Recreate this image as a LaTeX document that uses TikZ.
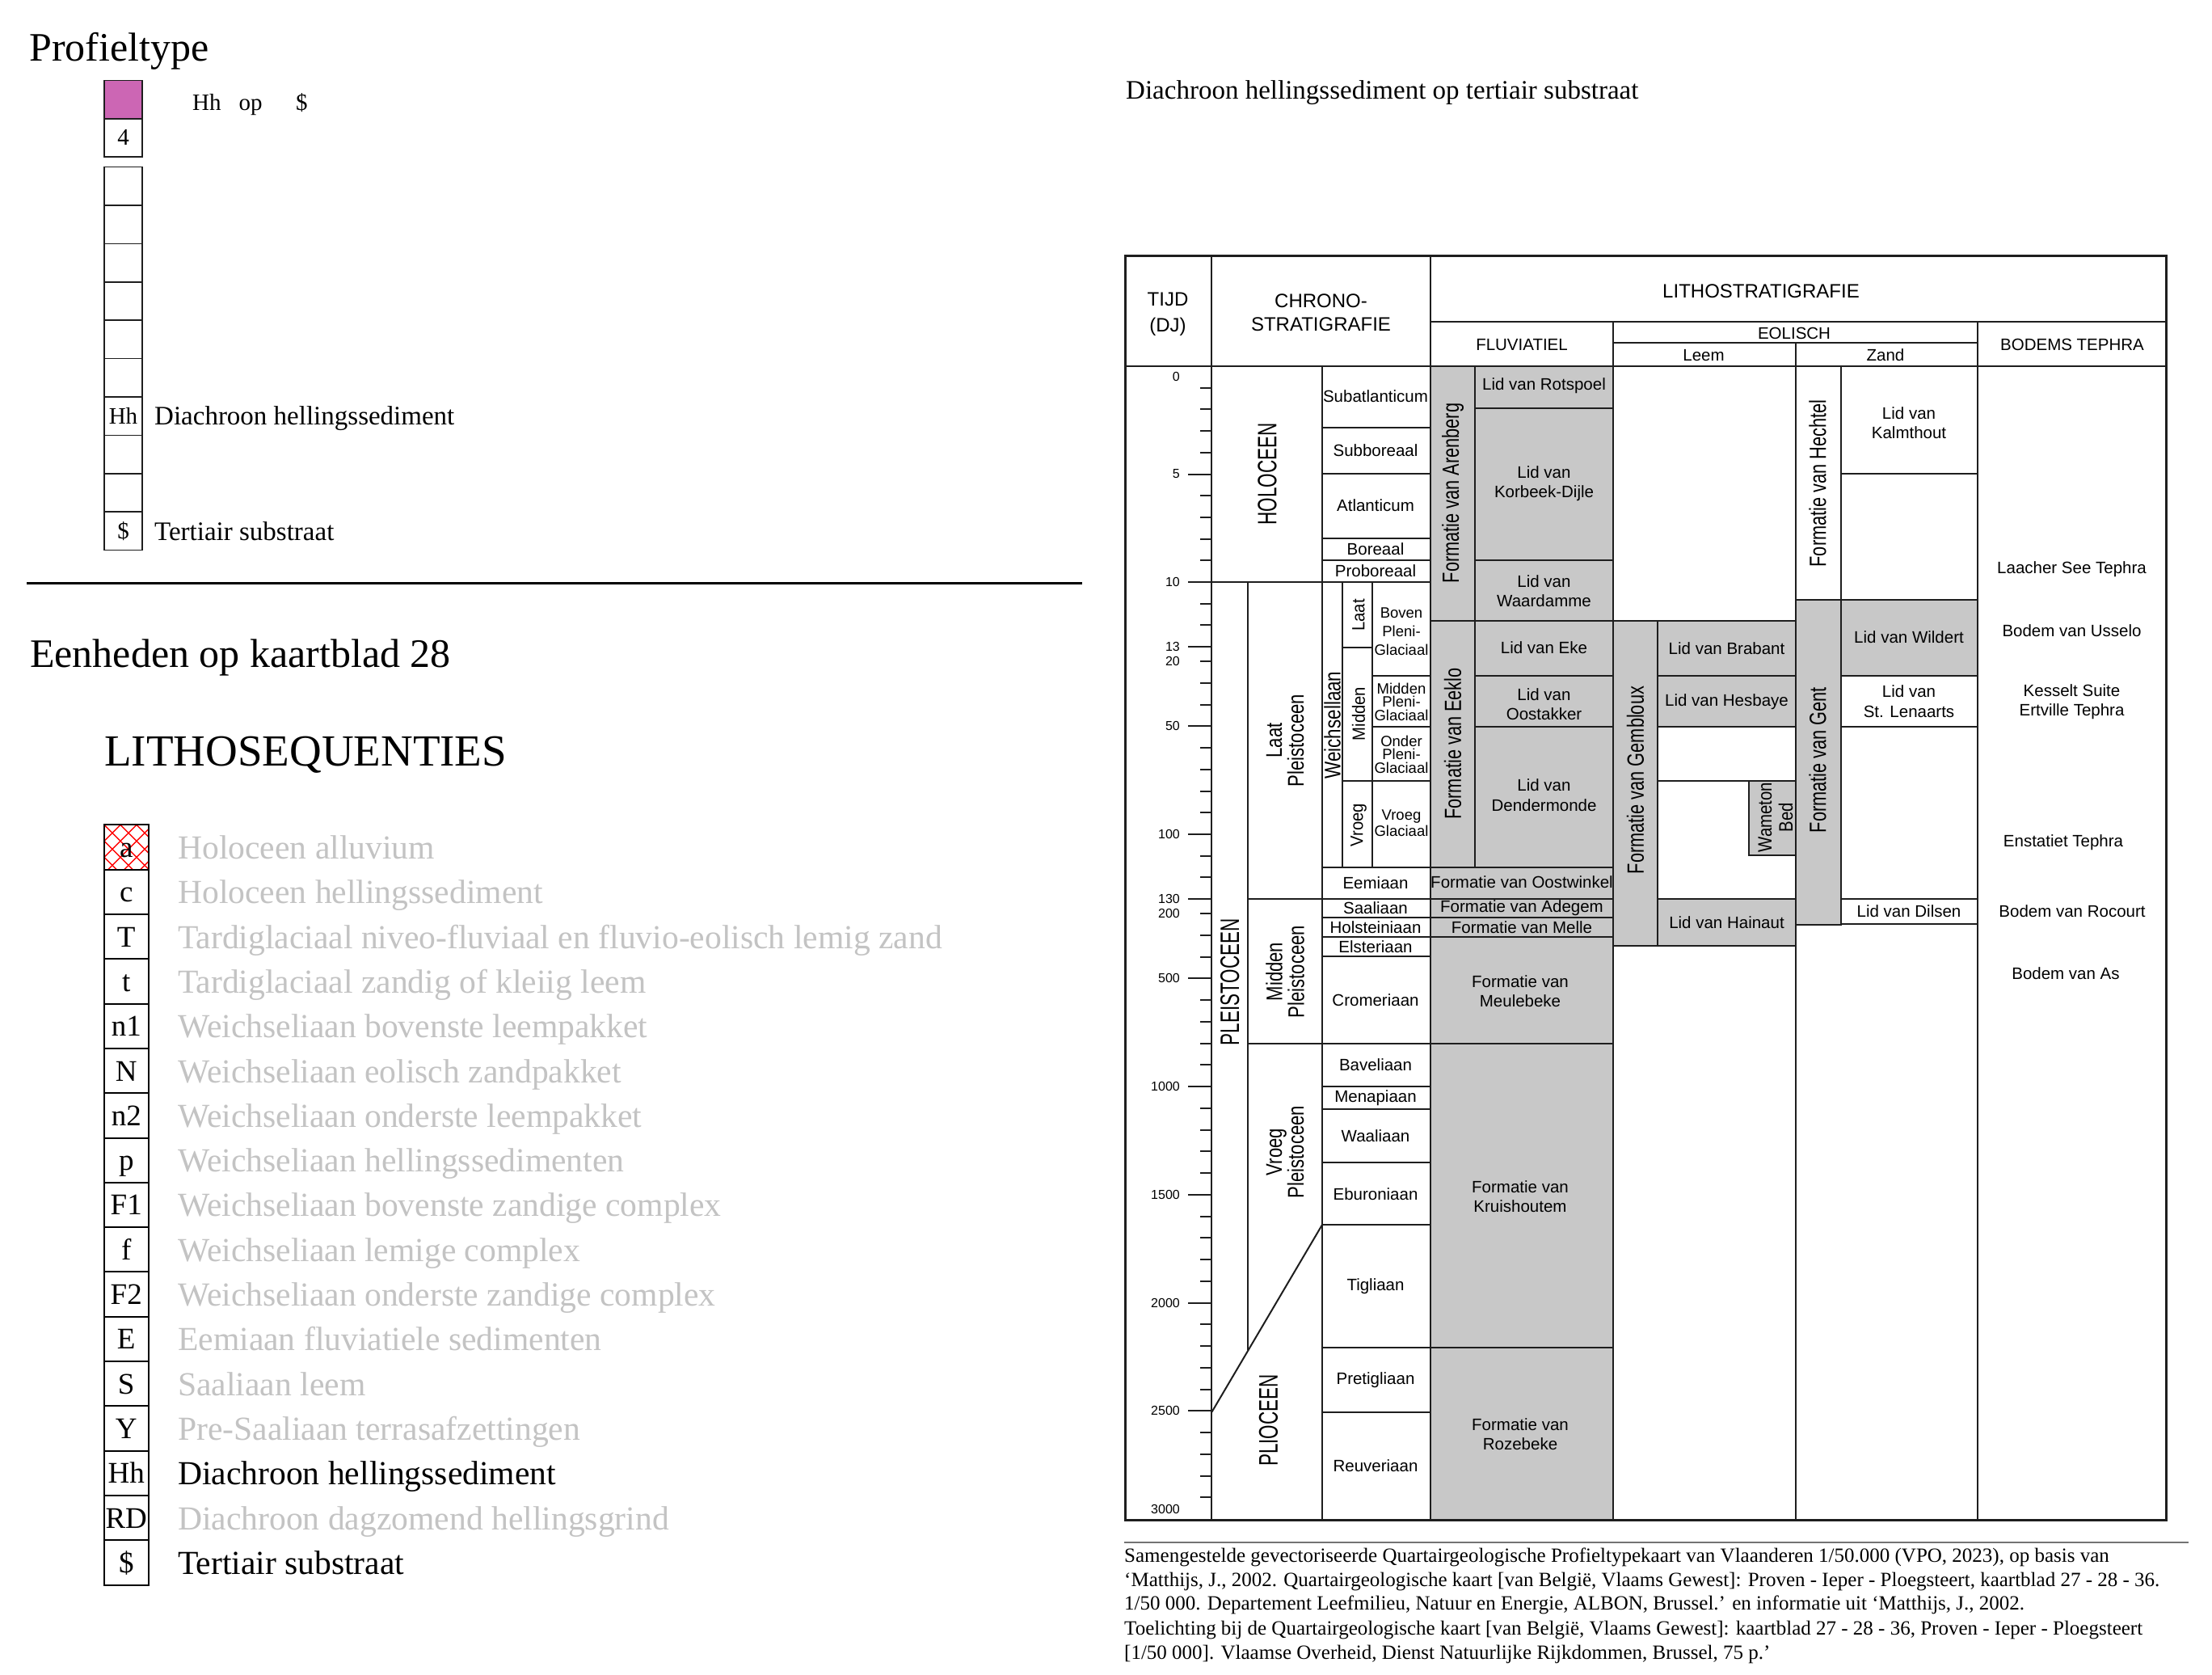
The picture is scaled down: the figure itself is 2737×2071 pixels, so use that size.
\documentclass[tikz,border=0pt]{standalone}
\usepackage{fontspec}
\setmainfont{Liberation Serif}
\newfontfamily\arial{Liberation Sans}
\usepackage{graphicx}
\definecolor{gfill}{RGB}{200,200,200}
\definecolor{ltxt}{RGB}{195,195,195}
\definecolor{mag}{RGB}{204,102,180}
\definecolor{ln}{RGB}{30,30,30}
\newcommand\cx[2]{\scalebox{#1}[1]{#2}}
\newcommand\fsz[2]{\fontsize{#1pt}{#2pt}\selectfont}
\tikzset{
 ctxt/.style={font=\arial\fsz{20.5}{24.5}, align=center, inner sep=0pt},
 ctxs/.style={font=\arial\fsz{18.5}{16.5}, align=center, inner sep=0pt},
 hdr/.style={font=\arial\fsz{24}{29}, anchor=base, inner sep=0pt},
 shdr/.style={font=\arial\fsz{20.5}{24}, anchor=base, inner sep=0pt},
 ticklbl/.style={font=\arial\fsz{16}{18}, anchor=east, inner sep=0pt},
 rotbig/.style={rotate=90, inner sep=0pt, align=center, font=\arial\fsz{33}{36}},
 rotmid/.style={rotate=90, inner sep=0pt, align=center, font=\arial\fsz{28}{27}},
 rotfm/.style={rotate=90, inner sep=0pt, align=center, font=\arial\fsz{29}{30}},
 rotsm/.style={rotate=90, inner sep=0pt, align=center, font=\arial\fsz{22}{24}},
 gbox/.style={fill=gfill, draw=ln, line width=2pt},
 wbox/.style={fill=white, draw=ln, line width=2pt},
 cl/.style={draw=ln, line width=2pt},
 legtxt/.style={anchor=base west, font=\fsz{41.6}{50}, inner sep=0pt},
 codetxt/.style={anchor=base, font=\fsz{37}{40}, inner sep=0pt},
 lbox/.style={draw=black, line width=2pt, minimum width=54.5pt, minimum height=55.3pt, inner sep=0pt},
 pbox/.style={draw=ln, line width=1.6pt, minimum width=47pt, minimum height=47.4pt, inner sep=0pt},
 ptxt/.style={anchor=base, font=\fsz{29}{32}, inner sep=0pt},
 serif/.style={anchor=base west, inner sep=0pt},
}
\begin{document}
\begin{tikzpicture}[x=1pt,y=-1pt]
\path[use as bounding box, fill=white] (0,0) rectangle (2737,2071);

% ---------------- Profieltype ----------------
\node[serif, font=\fsz{50}{60}] (ptitle) at (36,76) {Profieltype};
\node[pbox, fill=mag] (p0) at (152.5,123.2) {};
\node[pbox] (p1) at (152.5,170.5) {};
\node[ptxt] at (152.5,180) {4};
\foreach \k in {0,...,9} \node[pbox] (pb\k) at (152.5,{230.3+47.4*\k}) {};
\node[ptxt] (phh) at (152.5,{230.3+47.4*6+9.5}) {Hh};
\node[ptxt] (pdol) at (152.5,{230.3+47.4*9+9.5}) {\$};
\node[serif, font=\fsz{29}{32}] (q1) at (238,136.4) {Hh};
\node[serif, font=\fsz{29}{32}] (q2) at (295.5,136.4) {op};
\node[serif, font=\fsz{29}{32}] (q3) at (366,136.4) {\$};
\node[serif, font=\fsz{33}{36}] (pl1) at (191,525.7) {Diachroon hellingssediment};
\node[serif, font=\fsz{33}{36}] (pl2) at (191,668) {Tertiair substraat};

\draw[line width=3pt, black] (33,721.5) -- (1339,721.5);

% ---------------- Eenheden ----------------
\node[serif, font=\fsz{50}{60}] (etitle) at (37,825) {Eenheden op kaartblad 28};
\node[serif, font=\fsz{55}{60}] (ltitle) at (129,947) {LITHOSEQUENTIES};

\begin{scope}
\clip (129,1020.4) rectangle (183.5,1075.7);
\foreach \k in {-4,...,7} {
  \draw[red, line width=1.4pt] ({129+20*\k},1020.4) -- ++(70,70);
  \draw[red, line width=1.4pt] ({129+20*\k},1020.4) -- ++(-70,70);
}
\end{scope}

\foreach \c/\l/\col [count=\i from 0] in {
 a/Holoceen alluvium/ltxt,
 c/Holoceen hellingssediment/ltxt,
 T/Tardiglaciaal niveo-fluviaal en fluvio-eolisch lemig zand/ltxt,
 t/Tardiglaciaal zandig of kleiig leem/ltxt,
 n1/Weichseliaan bovenste leempakket/ltxt,
 N/Weichseliaan eolisch zandpakket/ltxt,
 n2/Weichseliaan onderste leempakket/ltxt,
 p/Weichseliaan hellingssedimenten/ltxt,
 F1/Weichseliaan bovenste zandige complex/ltxt,
 f/Weichseliaan lemige complex/ltxt,
 F2/Weichseliaan onderste zandige complex/ltxt,
 E/Eemiaan fluviatiele sedimenten/ltxt,
 S/Saaliaan leem/ltxt,
 Y/Pre-Saaliaan terrasafzettingen/ltxt,
 Hh/Diachroon hellingssediment/black,
 RD/Diachroon dagzomend hellingsgrind/ltxt,
 \$/Tertiair substraat/black} {
  \node[lbox] (lb\i) at (156.25,{1048.05+55.3*\i}) {};
  \node[codetxt] (lc\i) at (156.25,{1048.05+55.3*\i+12.5}) {\c};
  \node[legtxt, text=\col] (ll\i) at (220,{1048.05+55.3*\i+14.5}) {\l};
}

% ---------------- Right title ----------------
\node[serif, font=\fsz{33}{36}] (rtitle) at (1393,123) {Diachroon hellingssediment op tertiair substraat};

% ---------------- Chart boxes ----------------
% Fluviatiel
\draw[gbox] (1770,453) rectangle (1825,767.7);
\draw[gbox] (1825,453) rectangle (1996,505);
\draw[gbox] (1825,505) rectangle (1996,692.7);
\draw[gbox] (1825,692.7) rectangle (1996,767.7);
\draw[gbox] (1770,767.7) rectangle (1825,1072.7);
\draw[gbox] (1825,767.7) rectangle (1996,835.7);
\draw[gbox] (1825,835.7) rectangle (1996,899);
\draw[gbox] (1825,899) rectangle (1996,1072.7);
\draw[gbox] (1770,1072.7) rectangle (1996,1112);
\draw[gbox] (1770,1112) rectangle (1996,1135);
\draw[gbox] (1770,1135) rectangle (1996,1159);
\draw[gbox] (1770,1159) rectangle (1996,1291);
\draw[gbox] (1770,1291) rectangle (1996,1666.7);
\draw[gbox] (1770,1666.7) rectangle (1996,1880);
% Leem
\draw[gbox] (1996,768) rectangle (2051,1170);
\draw[gbox] (2051,768) rectangle (2222,835.7);
\draw[gbox] (2051,835.7) rectangle (2222,899);
\draw[wbox] (2051,899) rectangle (2222,965.7);
\draw[wbox] (2051,965.7) rectangle (2222,1112);
\draw[gbox] (2164,965.7) rectangle (2222,1057.7);
\draw[gbox] (2051,1112) rectangle (2222,1170);
% Zand
\draw[wbox] (2222,453) rectangle (2278,741.7);
\draw[wbox] (2278,453) rectangle (2447,585.7);
\draw[wbox] (2278,585.7) rectangle (2447,741.7);
\draw[gbox] (2222,741.7) rectangle (2278,1144);
\draw[gbox] (2278,741.7) rectangle (2447,835.7);
\draw[wbox] (2278,835.7) rectangle (2447,899);
\draw[wbox] (2278,899) rectangle (2447,1112);
\draw[wbox] (2278,1112) rectangle (2447,1143.3);

% Chrono lines
\draw[cl] (1499.4,720) -- (1770,720);
\foreach \yy in {529,586,666,692.7} \draw[cl] (1636,\yy) -- (1770,\yy);
\draw[cl] (1636,453) -- (1636,1880);
\draw[cl] (1544,720) -- (1544,1670.3);
\draw[cl] (1544,1112) -- (1770,1112);
\draw[cl] (1544,1291) -- (1770,1291);
\draw[cl] (1499.4,1746.7) -- (1636,1515);
\draw[cl] (1661.4,720) -- (1661.4,1072.7);
\draw[cl] (1698,720) -- (1698,1072.7);
\draw[cl] (1661.4,800.7) -- (1698,800.7);
\draw[cl] (1698,835.7) -- (1770,835.7);
\draw[cl] (1698,899) -- (1770,899);
\draw[cl] (1661.4,965.7) -- (1770,965.7);
\draw[cl] (1636,1072.7) -- (1770,1072.7);
\foreach \yy in {1135,1159,1182.7,1344.3,1372.3,1438.3,1515,1666.7,1746.7} \draw[cl] (1636,\yy) -- (1770,\yy);

% Ticks
\foreach \t in {1,...,12} \draw[cl] (1485,{453+26.7*\t}) -- (1499.4,{453+26.7*\t});
\foreach \t in {5,10,13} \draw[cl] (1470,{453+26.7*\t}) -- (1499.4,{453+26.7*\t});
\foreach \t in {2,...,12} \draw[cl] (1485,{818.3+26.7*(\t-2)}) -- (1499.4,{818.3+26.7*(\t-2)});
\foreach \t in {5,10,13} \draw[cl] (1470,{818.3+26.7*(\t-2)}) -- (1499.4,{818.3+26.7*(\t-2)});
\foreach \t in {2,...,29} \draw[cl] (1485,{1130+26.75*(\t-2)}) -- (1499.4,{1130+26.75*(\t-2)});
\foreach \t in {5,10,15,20,25} \draw[cl] (1470,{1130+26.75*(\t-2)}) -- (1499.4,{1130+26.75*(\t-2)});
\foreach \v/\yy in {0/466,5/586.5,10/720,13/800.1,20/818.3,50/898.4,100/1031.9,130/1112,200/1130,500/1210.25,1000/1344,1500/1477.75,2000/1611.5,2500/1745.25,3000/1867}
  \node[ticklbl] at (1460,\yy) {\v};

% Header lines
\draw[cl] (1499.4,316) -- (1499.4,1880);
\draw[cl] (1770,316) -- (1770,1880);
\draw[cl] (1996,398) -- (1996,1880);
\draw[cl] (2222,424) -- (2222,1880);
\draw[cl] (2447,398) -- (2447,1880);
\draw[cl] (1770,398) -- (2680,398);
\draw[cl] (1996,424) -- (2447,424);
\draw[cl] (1392,453) -- (2680,453);
\draw[draw=ln, line width=3pt] (1392,316) rectangle (2680,1880);

% Header text
\node[hdr] (h1) at (1445,378.5) {TIJD};
\node[hdr] (h2) at (1445,410.5) {(DJ)};
\node[hdr] (h3) at (1634.5,380) {CHRONO-};
\node[hdr] (h4) at (1634.5,409.5) {STRATIGRAFIE};
\node[hdr] (h5) at (2179,368.3) {LITHOSTRATIGRAFIE};
\node[shdr] (h6) at (1883,433.3) {FLUVIATIEL};
\node[shdr] (h7) at (2220,419) {EOLISCH};
\node[shdr] (h8) at (2108,446.7) {Leem};
\node[shdr] (h9) at (2333,446.7) {Zand};
\node[shdr] (h10) at (2564,433.3) {BODEMS TEPHRA};

% Chrono labels
\node[rotbig] (holo) at (1568,586.5) {\cx{.68}{HOLOCEEN}};
\node[rotbig] (pleis) at (1521.7,1215) {\cx{.68}{PLEISTOCEEN}};
\node[rotbig] (plio) at (1569.5,1757) {\cx{.68}{PLIOCEEN}};
\node[rotmid] (lp) at (1590,916) {\cx{.79}{Laat}\\\cx{.79}{Pleistoceen}};
\node[rotmid] (mp) at (1590,1202) {\cx{.79}{Midden}\\\cx{.79}{Pleistoceen}};
\node[rotmid] (vp) at (1590,1425) {\cx{.79}{Vroeg}\\\cx{.79}{Pleistoceen}};
\node[rotmid] (weich) at (1648.5,897) {\cx{.8}{Weichsellaan}};
\node[rotsm] (wl) at (1681,761) {\cx{.92}{Laat}};
\node[rotsm] (wm) at (1681,883) {\cx{.92}{Midden}};
\node[rotsm] (wv) at (1681,1020.7) {\cx{.92}{Vroeg}};
\node[ctxs, font=\arial\fsz{18.5}{23}] (bpg) at (1734,781) {Boven\\Pleni-\\Glaciaal};
\node[ctxs] (mpg) at (1734,868) {Midden\\Pleni-\\Glaciaal};
\node[ctxs] (opg) at (1734,933) {Onder\\Pleni-\\Glaciaal};
\node[ctxs, font=\arial\fsz{18.5}{20}] (vg) at (1734,1018) {Vroeg\\Glaciaal};

\node[ctxt] (s1) at (1702,490) {Subatlanticum};
\node[ctxt] (s2) at (1702,557) {Subboreaal};
\node[ctxt] (s3) at (1702,625) {Atlanticum};
\node[ctxt] (s4) at (1702,679.3) {Boreaal};
\node[ctxt] (s5) at (1702,706) {Proboreaal};
\node[ctxt] (s6) at (1702,1092.4) {Eemiaan};
\node[ctxt] (s7) at (1702,1123.5) {Saaliaan};
\node[ctxt] (s8) at (1702,1147) {Holsteiniaan};
\node[ctxt] (s9) at (1702,1171) {Elsteriaan};
\node[ctxt] (s10) at (1702,1237) {Cromeriaan};
\node[ctxt] (s11) at (1702,1317.6) {Baveliaan};
\node[ctxt] (s12) at (1702,1358.3) {Menapiaan};
\node[ctxt] (s13) at (1702,1405) {Waaliaan};
\node[ctxt] (s14) at (1702,1476.7) {Eburoniaan};
\node[ctxt] (s15) at (1702,1591) {Tigliaan};
\node[ctxt] (s16) at (1702,1706.7) {Pretigliaan};
\node[ctxt] (s17) at (1702,1813) {Reuveriaan};

% Fluviatiel labels
\node[rotfm] (fa) at (1797.5,610) {\cx{.75}{Formatie van Arenberg}};
\node[rotfm] (fe) at (1797.5,920) {\cx{.75}{Formatie van Eeklo}};
\node[ctxt] (f1) at (1910.5,477) {Lid van Rotspoel};
\node[ctxt] (f2) at (1910.5,598) {Lid van\\Korbeek-Dijle};
\node[ctxt] (f3) at (1910.5,731) {Lid van\\Waardamme};
\node[ctxt] (f4) at (1910.5,801) {Lid van Eke};
\node[ctxt] (f5) at (1910.5,871) {Lid van\\Oostakker};
\node[ctxt] (f6) at (1910.5,983.5) {Lid van\\Dendermonde};
\node[ctxt] (f7) at (1883,1091.5) {Formatie van Oostwinkel};
\node[ctxt] (f8) at (1883,1123.5) {Formatie van Adegem};
\node[ctxt] (f9) at (1883,1147) {Formatie van Melle};
\node[ctxt] (f10) at (1881,1226) {Formatie van\\Meulebeke};
\node[ctxt] (f11) at (1881,1480) {Formatie van\\Kruishoutem};
\node[ctxt] (f12) at (1881,1774) {Formatie van\\Rozebeke};

% Eolisch labels
\node[rotfm] (fg) at (2023.5,965) {\cx{.75}{Formatie van Gembloux}};
\node[ctxt] (e1) at (2136.5,802.5) {Lid van Brabant};
\node[ctxt] (e2) at (2136.5,868.5) {Lid van Hesbaye};
\node[ctxt] (e3) at (2136.5,1141.5) {Lid van Hainaut};
\node[rotsm, font=\arial\fsz{24}{26}] (wam) at (2197,1011) {\cx{.85}{Wameton}\\\cx{.85}{Bed}};
\node[rotfm] (fh) at (2249,598) {\cx{.75}{Formatie van Hechtel}};
\node[rotfm] (fgt) at (2249,940) {\cx{.75}{Formatie van Gent}};
\node[ctxt] (z1) at (2362,523) {Lid van\\Kalmthout};
\node[ctxt] (z2) at (2362,788.5) {Lid van Wildert};
\node[ctxt] (z3) at (2362,867.5) {Lid van\\St. Lenaarts};
\node[ctxt] (z4) at (2362,1127.5) {Lid van Dilsen};

% Bodems tephra
\node[ctxt] (b1) at (2563.5,704.3) {Laacher See Tephra};
\node[ctxt] (b2) at (2563.5,780) {Bodem van Usselo};
\node[ctxt] (b3) at (2563.5,868) {Kesselt Suite\\Ertville Tephra};
\node[ctxt] (b4) at (2553,1042.3) {Enstatiet Tephra};
\node[ctxt] (b5) at (2564,1126.7) {Bodem van Rocourt};
\node[ctxt] (b6) at (2556,1204) {Bodem van As};

% Footnote
\draw[line width=2pt, black!55] (1391,1908) -- (2708,1908);
\node[serif, font=\fsz{25}{30}] (n1) at (1391,1932) {Samengestelde gevectoriseerde Quartairgeologische Profieltypekaart van Vlaanderen 1/50.000 (VPO, 2023), op basis van};
\node[serif, font=\fsz{25}{30}] (n2) at (1391,1962) {‘Matthijs, J., 2002. Quartairgeologische kaart [van België, Vlaams Gewest]: Proven - Ieper - Ploegsteert, kaartblad 27 - 28 - 36.};
\node[serif, font=\fsz{25}{30}] (n3) at (1391,1991.5) {1/50 000. Departement Leefmilieu, Natuur en Energie, ALBON, Brussel.’ en informatie uit ‘Matthijs, J., 2002.};
\node[serif, font=\fsz{25}{30}] (n4) at (1391,2022) {Toelichting bij de Quartairgeologische kaart [van België, Vlaams Gewest]: kaartblad 27 - 28 - 36, Proven - Ieper - Ploegsteert};
\node[serif, font=\fsz{25}{30}] (n5) at (1391,2052) {[1/50 000]. Vlaamse Overheid, Dienst Natuurlijke Rijkdommen, Brussel, 75 p.’};
\end{tikzpicture}
\end{document}
